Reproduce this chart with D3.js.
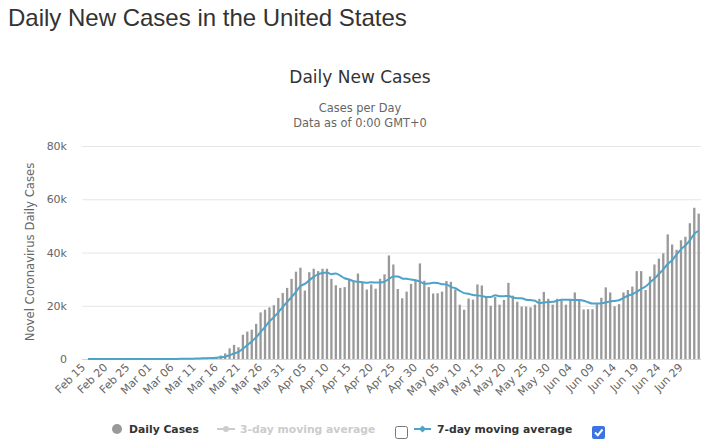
<!DOCTYPE html>
<html><head><meta charset="utf-8">
<script src="https://cdn.jsdelivr.net/npm/d3@7"></script>
<style>html,body{margin:0;padding:0;background:#fff;}svg{display:block;}</style>
</head><body>
<svg id="chart" width="724" height="447"></svg>
<script>
// ---- data ----
const startDate = new Date(2020, 1, 15);   // Feb 15, 2020
const endDate = new Date(2020, 6, 3);      // exclusive -> last day Jul 02
const categories = d3.timeDay.range(startDate, endDate).map(d3.timeFormat("%b %d"));

const dailyCases = [
  0,0,0,0,0,0,2,0,0,18,0,6,1,1,8,
  8,23,20,31,70,68,129,148,116,374,387,460,547,620,730,
  1300,2100,4000,5300,4400,9100,10300,11000,13200,17500,18500,19400,20200,22900,24800,26700,
  30100,32800,34300,25700,32600,33900,33000,33900,33900,30100,27700,26700,27000,29800,29500,
  32100,29000,26100,28000,26400,30100,31800,38900,35500,26300,22800,25300,28200,29800,35900,
  29400,27000,24600,24700,25300,29300,29000,26100,20400,18500,22700,22300,28000,27600,23600,20000,
  23300,20400,22200,28600,23800,21500,19700,19700,19400,20400,22600,25200,22600,20400,22600,
  22000,20400,22300,25000,22200,18600,18700,18700,20600,23000,26900,25000,19800,20600,25000,
  25900,27200,33000,33000,25900,31000,35500,37700,39700,46800,43000,41000,44600,45900,51000,
  56800,54600
];

const movingAvg7 = [
  0,0,0,0,0,0,0,0,0,3,3,4,4,4,5,
  6,7,10,13,23,33,50,70,83,134,185,240,309,379,462,
  631,878,1394,2085,2636,3847,5214,6600,8186,10114,12000,14143,15729,17529,19500,21429,
  23229,25271,27400,28186,29571,30871,31771,32314,32471,31871,32157,31314,30329,29871,29243,
  28986,28829,28600,28786,28700,28743,29071,30043,30971,31000,30257,30100,29829,29543,29114,
  28243,28343,28600,28514,28100,28029,27043,26571,25629,24757,24471,24043,23857,23657,23300,23243,
  23929,23600,23586,23671,23129,22829,22786,22271,22129,21871,21014,21214,21371,21471,21886,
  22257,22257,22214,22186,22129,21871,21314,20843,20871,20971,21243,21643,21814,22086,22986,
  23743,24343,25214,26357,27229,28714,30214,31900,33686,35657,37086,39243,41186,42671,44571,
  47014,48129
];

const yTickValues = [0, 20000, 40000, 60000, 80000];
const yTickLabels = ["0", "20k", "40k", "60k", "80k"];
const xTickLabels = categories.filter((c, i) => i % 5 === 0);

// ---- drawing ----
const svg = d3.select("#chart");
const W = 724, H = 447;
const plot = {left: 82, right: 701, top: 146, bottom: 359};

svg.append("rect").attr("width", W).attr("height", H).attr("fill", "#fff");

const x = d3.scalePoint().domain(categories).range([88, 698.7]);
const y = d3.scaleLinear().domain([0, 80000]).range([plot.bottom, plot.top]);

// page title
svg.append("text").attr("x", 8).attr("y", 26)
  .attr("font-family", "'Liberation Sans', Arial, sans-serif").attr("font-size", 24)
  .attr("fill", "#333").text("Daily New Cases in the United States");

// chart title + subtitles
svg.append("text").attr("x", 360).attr("y", 83).attr("text-anchor", "middle")
  .attr("font-family", "'DejaVu Sans', sans-serif").attr("font-size", 17)
  .attr("fill", "#333").text("Daily New Cases");
svg.append("text").attr("x", 360).attr("y", 112).attr("text-anchor", "middle")
  .attr("font-family", "'DejaVu Sans', sans-serif").attr("font-size", 11.4)
  .attr("fill", "#666").text("Cases per Day");
svg.append("text").attr("x", 360).attr("y", 127).attr("text-anchor", "middle")
  .attr("font-family", "'DejaVu Sans', sans-serif").attr("font-size", 11.4)
  .attr("fill", "#666").text("Data as of 0:00 GMT+0");

// y grid + labels
const yAxis = d3.axisLeft(y).tickValues(yTickValues)
  .tickSize(-(plot.right - plot.left)).tickPadding(15)
  .tickFormat((d, i) => yTickLabels[i]);
const gy = svg.append("g").attr("transform", `translate(${plot.left},0)`).call(yAxis);
gy.select(".domain").remove();
gy.selectAll(".tick line").attr("stroke", "#e6e6e6").attr("stroke-width", 1);
gy.selectAll(".tick text").attr("fill", "#666")
  .attr("font-family", "'DejaVu Sans', sans-serif").attr("font-size", 11);

// y axis title
svg.append("text")
  .attr("transform", `translate(34,252) rotate(-90)`)
  .attr("text-anchor", "middle")
  .attr("font-family", "'DejaVu Sans', sans-serif").attr("font-size", 11.7)
  .attr("fill", "#666").text("Novel Coronavirus Daily Cases");

// bars
const barW = 2.3;
svg.append("g").selectAll("rect").data(dailyCases).join("rect")
  .attr("x", (d, i) => x(categories[i]) - barW / 2)
  .attr("y", d => y(d))
  .attr("width", barW)
  .attr("height", d => y(0) - y(d))
  .attr("fill", "#999");

// x axis line
svg.append("line").attr("x1", plot.left).attr("x2", plot.right)
  .attr("y1", plot.bottom + 0.5).attr("y2", plot.bottom + 0.5)
  .attr("stroke", "#ccd6eb").attr("stroke-width", 1);

// 7-day moving average line
const line = d3.line().x((d, i) => x(categories[i])).y(d => y(d)).curve(d3.curveMonotoneX);
svg.append("path").datum(movingAvg7).attr("d", line)
  .attr("fill", "none").attr("stroke", "#4da3c8").attr("stroke-width", 2)
  .attr("stroke-linejoin", "round");

// x tick labels
const gx = svg.append("g").attr("transform", `translate(0,${plot.bottom})`);
gx.selectAll("text").data(xTickLabels).join("text")
  .attr("transform", d => `translate(${x(d) - 2},9) rotate(-45)`)
  .attr("text-anchor", "end")
  .attr("font-family", "'DejaVu Sans', sans-serif").attr("font-size", 11)
  .attr("fill", "#666").text(d => d);

// legend
const lg = svg.append("g").attr("font-family", "'DejaVu Sans', sans-serif")
  .attr("font-size", 10.8).attr("font-weight", "bold");
lg.append("circle").attr("cx", 117).attr("cy", 429).attr("r", 5).attr("fill", "#999");
lg.append("text").attr("x", 129).attr("y", 433).attr("fill", "#333").text("Daily Cases");

lg.append("line").attr("x1", 217).attr("x2", 235).attr("y1", 429).attr("y2", 429)
  .attr("stroke", "#ccc").attr("stroke-width", 2);
lg.append("circle").attr("cx", 226).attr("cy", 429).attr("r", 3).attr("fill", "#ccc");
lg.append("text").attr("x", 240).attr("y", 433).attr("fill", "#ccc").text("3-day moving average");

lg.append("rect").attr("x", 395.5).attr("y", 426.5).attr("width", 12).attr("height", 12)
  .attr("rx", 2).attr("fill", "#fff").attr("stroke", "#767676");

lg.append("line").attr("x1", 414).attr("x2", 431).attr("y1", 429).attr("y2", 429)
  .attr("stroke", "#4da3c8").attr("stroke-width", 2);
lg.append("path").attr("d", "M422.5,425.5 L426,429 L422.5,432.5 L419,429 Z").attr("fill", "#4da3c8");
lg.append("text").attr("x", 437).attr("y", 433).attr("fill", "#333").text("7-day moving average");

lg.append("rect").attr("x", 592).attr("y", 426).attr("width", 13).attr("height", 13)
  .attr("rx", 2).attr("fill", "#3b74e0");
lg.append("path").attr("d", "M595,432.5 L597.8,435.3 L602.5,429.5")
  .attr("fill", "none").attr("stroke", "#fff").attr("stroke-width", 2);
</script>
</body></html>
